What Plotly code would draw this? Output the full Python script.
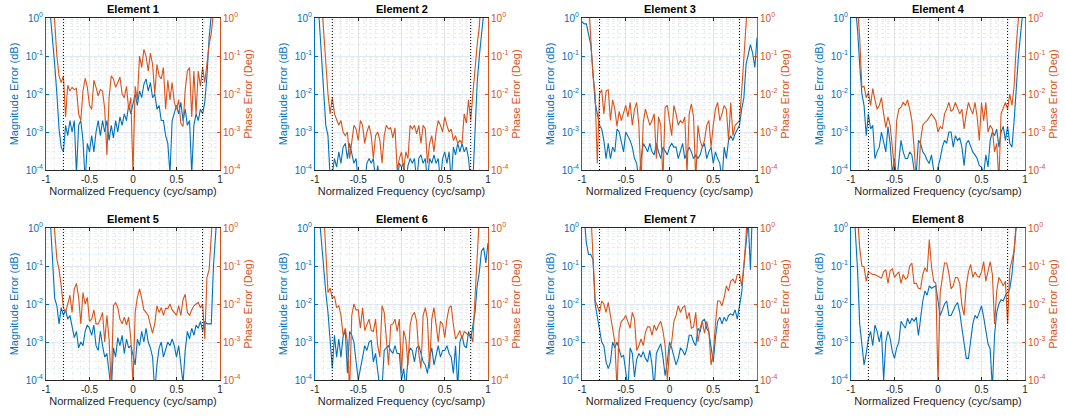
import plotly.graph_objects as go

# ---------------- data ----------------
FREQ = [round(-1 + 0.025 * i, 3) for i in range(81)]  # normalized frequency grid (cyc/samp)
TITLES = ["Element 1", "Element 2", "Element 3", "Element 4",
          "Element 5", "Element 6", "Element 7", "Element 8"]
X_TICKS = [-1, -0.5, 0, 0.5, 1]
X_TICK_LABELS = ["-1", "-0.5", "0", "0.5", "1"]
Y_TICKS = [1e-4, 1e-3, 1e-2, 1e-1, 1]
Y_TICK_LABELS = ["10<sup>-4</sup>", "10<sup>-3</sup>", "10<sup>-2</sup>", "10<sup>-1</sup>", "10<sup>0</sup>"]
PASSBAND_EDGES = [-0.8, 0.8]

MAG_E1 = [5, 3, 1.2, 0.3, 0.06, 0.01, 1.2e-3, 4e-4, 3e-4, 1.5e-3,
          8e-4, 2e-3, 1e-3, 2e-3, 8e-5, 1.5e-3, 2e-3, 6e-4, 5e-5, 5e-4,
          3e-4, 8e-4, 3e-4, 1e-3, 2e-3, 8e-4, 2e-3, 1e-3, 2e-3, 6e-4,
          1.5e-3, 7e-4, 2e-3, 1e-3, 2.5e-3, 1.5e-3, 3e-3, 2e-3, 5e-3, 3e-3,
          6e-3, 1e-2, 5e-3, 1.2e-2, 8e-3, 1.8e-2, 2.5e-2, 1.2e-2, 2e-2, 8e-3,
          1e-2, 4e-3, 5e-3, 2e-3, 2e-3, 8e-4, 5e-4, 8e-5, 2e-3, 3e-3,
          5e-3, 3e-3, 6e-3, 2e-3, 4e-3, 1.5e-3, 2e-3, 8e-5, 1.5e-3, 3e-3,
          2e-3, 4e-3, 3e-3, 6e-3, 3e-2, 0.3, 2, 5, 5, 5, 5]
PH_E1 = [5, 5, 5, 3, 0.8, 0.1, 3e-2, 2e-2, 3e-2, 2.5e-3,
         1.7e-2, 1.2e-2, 1.5e-2, 1.3e-2, 1.4e-2, 3e-3, 2e-3, 1.2e-2, 2.6e-2, 1.5e-2,
         5e-3, 4e-3, 2.3e-2, 1.5e-2, 9e-3, 1.3e-2, 1.2e-2, 4e-3, 2.5e-4, 8e-3,
         3e-2, 2.5e-2, 1.5e-2, 2e-2, 2.8e-2, 1e-2, 8e-3, 1.6e-2, 4e-3, 8e-3,
         8e-5, 1.6e-2, 7e-3, 0.1, 5e-2, 0.15, 0.1, 4e-2, 0.12, 6e-2,
         1e-2, 6e-2, 3e-2, 2.5e-2, 5e-2, 4e-3, 2.3e-2, 7e-3, 2e-2, 6e-3,
         4e-3, 7e-3, 1.7e-3, 1.4e-3, 1.3e-2, 4e-2, 5e-2, 2.5e-3, 4e-2, 3e-3,
         4e-2, 1.6e-2, 5e-2, 2e-2, 8e-2, 0.2, 0.4, 1.5, 5, 5, 5]

MAG_E2 = [5, 3, 0.8, 0.1, 1e-2, 1.5e-3, 8e-4, 6e-5, 8e-5, 2e-4,
          1.2e-4, 3e-4, 1.5e-4, 4e-4, 5e-4, 2e-4, 5e-4, 3e-4, 1.5e-4, 2e-4,
          5e-5, 5e-5, 5e-5, 5e-5, 1.5e-4, 2e-4, 1.5e-4, 2e-4, 5e-5, 1.3e-4,
          5e-5, 5e-5, 5e-5, 5e-5, 5e-5, 5e-5, 5e-5, 5e-5, 5e-5, 1.5e-4,
          1.2e-4, 1.5e-4, 5e-5, 1.3e-4, 2e-4, 1.5e-4, 2e-4, 5e-5, 2e-4, 2.5e-4,
          1.5e-4, 2e-4, 5e-5, 2e-4, 1.5e-4, 2.5e-4, 1.5e-4, 2e-4, 5e-5, 2e-4,
          3e-4, 1.5e-4, 3e-4, 5e-5, 4e-4, 2.5e-4, 5e-4, 3e-4, 5e-4, 3e-4,
          4e-4, 2e-4, 5e-5, 5e-5, 1e-3, 0.02, 0.1, 0.5, 2, 5, 5]
PH_E2 = [5, 5, 5, 3, 0.5, 0.05, 1e-2, 3e-3, 8e-3, 3e-3,
         2e-3, 1.5e-3, 2e-3, 1e-3, 8e-4, 1e-3, 2e-4, 6e-4, 1.5e-3, 1.2e-3,
         6e-4, 2e-3, 1.5e-3, 5e-4, 1e-3, 1.5e-3, 8e-4, 2e-4, 8e-4, 1e-3,
         6e-4, 1.5e-4, 8e-4, 1.5e-3, 1.2e-3, 1.3e-3, 7e-4, 1.3e-3, 1e-4, 2e-4,
         3e-4, 1e-4, 3e-4, 2e-4, 1.5e-3, 1.2e-3, 1.5e-3, 9e-4, 1.5e-3, 5e-4,
         1.5e-3, 1.2e-3, 1.5e-4, 5e-4, 8e-4, 3e-4, 1e-3, 2e-3, 1.5e-3, 1e-3,
         2.5e-3, 1.5e-3, 1e-3, 1.2e-3, 6e-4, 8e-4, 5e-4, 6e-4, 5e-4, 3e-3,
         1.7e-3, 7e-3, 2e-3, 1e-2, 5e-2, 0.2, 0.6, 5, 5, 5, 5]

MAG_E3 = [0.8, 0.7, 0.7, 0.4, 0.2, 0.04, 6e-3, 3e-3, 1.5e-3, 1.2e-3,
          6e-4, 2e-4, 5e-4, 2e-4, 4e-4, 3e-4, 1.2e-3, 1e-3, 5e-4, 3e-4,
          1e-3, 8e-4, 6e-4, 4e-4, 2e-4, 1.5e-4, 5e-5, 2e-4, 5e-4, 4e-4,
          3e-4, 5e-4, 3e-4, 2.5e-4, 5e-4, 3e-4, 2e-4, 4e-4, 3e-4, 2.5e-4,
          4e-4, 5e-4, 4e-4, 4e-4, 2e-4, 3e-4, 5e-4, 2e-4, 3e-4, 4e-4,
          3e-4, 2e-4, 2.5e-4, 2e-4, 2.5e-4, 4e-4, 5e-4, 2e-4, 3e-4, 4e-4,
          1.5e-4, 3e-4, 2e-4, 1.5e-4, 5e-5, 4e-4, 2e-4, 6e-4, 8e-4, 6e-4,
          9e-4, 1.2e-3, 1.5e-3, 4e-3, 8e-3, 0.06, 0.12, 0.2, 0.12, 0.05, 0.3]
PH_E3 = [5, 5, 5, 3, 0.4, 0.03, 1e-2, 1.5e-4, 1e-2, 1.3e-2,
         3e-3, 1.2e-2, 1.3e-2, 2e-3, 7e-3, 4e-3, 1.4e-3, 3.5e-3, 2e-3, 3e-3,
         5e-3, 2.5e-3, 6e-3, 1.5e-3, 4e-3, 6e-3, 1.5e-3, 5e-5, 1.8e-3, 4e-3,
         2.5e-3, 1.5e-3, 2e-3, 3e-3, 2e-4, 2.5e-3, 1.5e-3, 5e-5, 4.5e-3, 5e-3,
         2e-3, 8e-4, 5e-3, 3e-3, 1.5e-3, 2e-3, 1.7e-3, 2.5e-3, 8e-5, 3e-3,
         5.5e-3, 2.5e-3, 5e-5, 1.5e-3, 6e-4, 4e-4, 6e-4, 1.5e-3, 2e-3, 4e-4,
         1.5e-3, 4e-3, 6e-3, 2e-3, 3e-3, 5e-3, 4e-3, 6e-4, 6e-3, 8e-4,
         1.5e-3, 1.7e-3, 2e-3, 1.2e-2, 0.1, 0.6, 5, 5, 5, 5, 5]

MAG_E4 = [5, 5, 2, 0.5, 0.06, 1e-2, 5e-3, 8e-4, 3e-3, 1.2e-3,
          1.5e-3, 2e-4, 3e-4, 4e-4, 1e-3, 5e-4, 3e-4, 1.4e-3, 5e-4, 8e-5,
          2e-4, 5e-5, 2e-4, 6e-4, 3e-4, 2e-4, 2e-4, 3e-4, 2.5e-4, 1e-4,
          8e-5, 6e-4, 5e-4, 3e-4, 2.5e-4, 1.8e-4, 1.5e-4, 2.5e-4, 1e-4, 5e-5,
          1.2e-4, 2e-4, 4e-4, 6e-4, 5e-4, 1e-3, 1e-3, 4e-4, 8e-4, 6e-4,
          7e-4, 4e-4, 1.3e-4, 5e-4, 6e-4, 4e-4, 3e-4, 2.5e-4, 2e-4, 1.3e-4,
          1.2e-4, 8e-5, 2.5e-4, 1.2e-4, 6e-4, 1e-3, 8e-4, 1.2e-3, 4e-4, 1e-3,
          1.4e-3, 6e-4, 1.4e-3, 5e-4, 4e-4, 2e-3, 2e-2, 0.1, 0.4, 2, 5]
PH_E4 = [5, 5, 5, 2, 0.3, 1.5e-2, 1.6e-2, 8e-3, 1.1e-2, 5e-3,
         1.4e-2, 7e-3, 4e-3, 5e-3, 8e-3, 3e-3, 1.3e-3, 2.5e-3, 1.5e-3, 4e-4,
         1e-4, 2e-3, 4e-3, 4.5e-3, 6e-3, 5e-3, 7e-3, 4e-3, 2e-3, 4e-4,
         5e-5, 5e-5, 6e-4, 1.5e-3, 1.8e-3, 2e-3, 2.5e-3, 3e-3, 2.5e-3, 2e-3,
         1e-3, 1.4e-3, 1.2e-3, 3e-3, 4e-3, 6e-3, 3.5e-3, 4e-3, 6e-3, 4e-3,
         3e-3, 4e-3, 1.2e-3, 3e-3, 6e-3, 4e-3, 3e-3, 6e-3, 2.5e-3, 6e-4,
         6e-3, 2e-3, 6e-3, 1e-3, 1.5e-3, 1.2e-3, 3e-4, 5e-4, 5e-5, 3e-3,
         4.5e-3, 6e-3, 4e-3, 1e-2, 5e-3, 1.6e-2, 0.2, 0.8, 5, 5, 5]

MAG_E5 = [5, 5, 1.5, 0.1, 1.4e-2, 9e-3, 3e-3, 8e-3, 5e-3, 7e-3,
          4e-3, 5e-3, 2.3e-3, 1.3e-3, 1.9e-3, 7e-4, 1e-3, 8e-4, 1.9e-3, 2.8e-3,
          2.3e-3, 1.5e-3, 2.8e-3, 8e-4, 6e-4, 1.9e-3, 8e-4, 4e-4, 5e-4, 1.5e-4,
          5e-5, 7e-4, 4e-4, 1.3e-3, 8e-4, 1.5e-3, 5e-4, 1.2e-3, 7e-4, 8e-4,
          4e-4, 2.5e-4, 1.2e-3, 8e-4, 1.9e-3, 1e-3, 2.3e-3, 1e-3, 7e-4, 4e-4,
          5e-5, 2.5e-4, 7e-4, 1e-3, 4e-4, 6e-4, 1e-3, 8e-4, 1.2e-3, 8e-4,
          4e-4, 8e-4, 2.5e-4, 8e-5, 6e-4, 1.9e-3, 1.2e-3, 2.3e-3, 1.5e-3, 2.8e-3,
          2.3e-3, 3.5e-3, 2e-3, 3.5e-3, 3e-3, 3e-3, 3e-3, 0.1, 1.5, 5, 5]
PH_E5 = [5, 5, 5, 5, 0.8, 0.15, 0.08, 3e-2, 8e-3, 6e-3,
         1e-2, 1.7e-2, 6e-3, 2.5e-2, 3.5e-2, 1.5e-2, 3e-3, 2e-2, 1e-2, 1.5e-2,
         3.5e-3, 4e-3, 7e-3, 3e-3, 3e-3, 4e-3, 6e-3, 1e-3, 5e-3, 1.2e-3,
         7e-5, 9e-3, 1.1e-2, 8e-3, 4e-3, 3e-3, 4.5e-3, 2.8e-3, 4.5e-3, 1.2e-3,
         7e-5, 6e-3, 1.5e-2, 2.5e-2, 1.4e-2, 7e-3, 6e-3, 5e-3, 2.8e-3, 1.7e-3,
         3e-3, 9e-3, 6e-3, 8e-3, 5e-3, 7.8e-3, 7.5e-3, 1e-2, 7e-3, 6e-3,
         5e-3, 9e-3, 5e-3, 1.3e-2, 1.8e-2, 6e-3, 5e-3, 7e-3, 9e-3, 1e-2,
         1.1e-2, 8e-3, 1e-2, 1.2e-3, 0.05, 0.08, 0.5, 5, 5, 5, 5]

MAG_E6 = [5, 5, 2, 0.4, 0.08, 0.02, 6e-3, 8e-4, 2e-4, 1.5e-3,
          4e-4, 1.2e-3, 4e-4, 1.4e-3, 2e-3, 1.5e-4, 1.9e-3, 1.5e-3, 1e-3, 3e-4,
          1e-4, 2e-4, 4e-4, 8e-4, 6e-4, 1e-3, 1.1e-3, 3e-4, 5e-4, 2e-4,
          6e-5, 6e-5, 6e-4, 7e-4, 8e-4, 6e-4, 5e-4, 8e-4, 5e-4, 5e-4,
          1e-4, 2e-4, 6e-5, 4e-4, 7e-4, 6e-4, 3e-4, 7e-4, 8e-4, 5e-4,
          3e-4, 2.5e-4, 1.5e-4, 4e-4, 7e-4, 2.5e-4, 5e-4, 8e-4, 4e-4, 6e-4,
          6e-4, 8e-4, 5e-4, 4e-4, 1.5e-4, 8e-4, 6e-5, 1e-3, 1.5e-3, 8e-4,
          7e-4, 1.9e-3, 1.2e-3, 3e-3, 6e-3, 3e-2, 0.07, 0.25, 0.3, 0.12, 0.4]
PH_E6 = [5, 5, 5, 5, 3, 0.3, 0.02, 0.026, 0.014, 0.016,
         8e-3, 9e-3, 5e-3, 1.5e-3, 2.3e-3, 1e-3, 5e-5, 5e-3, 1e-2, 7e-3,
         7e-3, 2.3e-3, 8e-3, 2e-3, 2.8e-3, 4e-3, 2e-3, 1.9e-3, 4e-3, 8e-4,
         4e-4, 9e-3, 6e-3, 1e-3, 2.5e-4, 2.8e-3, 3e-3, 4e-3, 1.9e-3, 4e-3,
         1.5e-4, 2e-3, 1.2e-3, 2.5e-4, 2.8e-3, 5e-3, 6e-3, 3.5e-3, 5e-4, 2e-4,
         5e-3, 8e-3, 4e-3, 2e-4, 4e-3, 8e-3, 3e-3, 1e-3, 3.5e-3, 3e-3,
         1.3e-3, 4e-3, 8e-3, 9e-3, 2.8e-3, 1.2e-3, 1.5e-3, 2e-3, 1.2e-3, 1.9e-3,
         1.7e-3, 1.5e-3, 1.6e-3, 1e-3, 1.5e-2, 0.3, 2, 5, 5, 5, 5]

MAG_E7 = [5, 2, 0.4, 0.2, 0.2, 0.15, 0.01, 5e-3, 2e-3, 1e-3,
          8e-4, 3e-4, 2e-4, 3e-4, 1e-3, 7e-4, 1e-3, 6e-4, 4e-4, 4.5e-4,
          1.5e-4, 6e-5, 7e-4, 5e-4, 1.2e-4, 3.5e-4, 5e-4, 4e-4, 5.6e-4, 3.7e-4,
          3e-4, 6e-4, 2.5e-4, 6e-5, 5e-4, 7e-4, 9e-4, 4e-4, 1.3e-4, 3e-4,
          1e-3, 7e-4, 4.5e-4, 2.5e-4, 3.7e-4, 7e-4, 6e-4, 4.5e-4, 7e-4, 1.5e-3,
          1.5e-3, 1e-3, 8e-4, 2.3e-3, 1.8e-3, 3.5e-3, 4e-3, 2.3e-3, 1.8e-3, 7e-4,
          3e-4, 1.3e-3, 3.5e-3, 4.5e-3, 3e-3, 4.5e-3, 3.5e-3, 5e-3, 5.5e-3, 5e-3,
          7e-3, 4e-3, 1e-2, 2e-2, 0.1, 0.3, 1.5, 0.08, 5, 5, 5]
PH_E7 = [5, 5, 5, 5, 3, 0.2, 1.2e-2, 9e-3, 6e-3, 1.2e-2,
         1e-2, 6e-3, 1.1e-2, 5e-3, 2.5e-3, 1e-3, 6e-5, 2e-3, 3.5e-3, 4e-3,
         5e-3, 3.5e-3, 2.3e-3, 6e-3, 4e-3, 6e-4, 8e-4, 1.2e-3, 8e-4, 1.8e-3,
         2.5e-3, 2.5e-3, 1.5e-3, 2.8e-3, 2e-3, 2.8e-3, 3.5e-3, 2e-3, 8e-4, 1e-4,
         6e-4, 1e-3, 3.5e-3, 5e-3, 9e-3, 6e-3, 8e-3, 9e-3, 4e-3, 6e-3,
         2.3e-3, 2.5e-3, 6e-3, 1e-3, 2.3e-3, 3.5e-3, 1.7e-3, 3.5e-3, 1.9e-3, 2.5e-4,
         5e-4, 3e-3, 1.2e-2, 1.2e-2, 9e-3, 1.5e-2, 3e-2, 2.2e-2, 4e-2, 4.5e-2,
         3.5e-2, 6e-2, 6e-2, 3e-2, 0.1, 0.6, 5, 5, 5, 5, 5]

MAG_E8 = [5, 5, 0.8, 0.08, 3e-3, 8e-4, 2.5e-4, 5e-4, 1.2e-3, 1.9e-3,
          8e-4, 2.8e-3, 1.9e-3, 1e-3, 1.9e-3, 1e-4, 1e-3, 1.9e-3, 1.25e-3, 5.6e-4,
          3.7e-4, 7e-4, 1e-3, 3.5e-3, 2.8e-3, 2.3e-3, 4.2e-3, 3e-3, 4.2e-3, 3.5e-3,
          4.5e-3, 1.5e-3, 4.2e-3, 1.2e-2, 2.2e-2, 1.7e-2, 3e-2, 2.6e-2, 2.8e-2, 3e-2,
          1.2e-2, 5e-3, 7e-3, 1e-2, 1.2e-2, 5e-3, 5e-3, 7e-3, 9e-3, 1.1e-2,
          6e-3, 2.3e-3, 1e-3, 3.7e-4, 3.7e-4, 1e-3, 3e-3, 5e-3, 4.2e-3, 6e-3,
          9e-3, 4.5e-3, 2e-3, 9e-4, 6.5e-4, 6e-5, 1.5e-3, 6e-3, 1e-2, 1.3e-2,
          1.2e-2, 1.7e-2, 2e-2, 2.5e-2, 0.06, 0.2, 0.6, 5, 5, 5, 5]
PH_E8 = [5, 5, 5, 2, 0.3, 0.1, 0.095, 0.04, 0.07, 0.065,
         0.06, 0.06, 0.055, 0.05, 0.048, 0.07, 0.08, 0.035, 0.075, 0.085,
         0.05, 0.06, 0.07, 0.035, 0.06, 0.045, 0.05, 0.1, 0.12, 0.035,
         0.035, 0.026, 0.025, 0.06, 0.09, 0.07, 0.5, 0.1, 0.04, 0.035,
         8e-5, 0.02, 0.045, 0.12, 0.12, 0.065, 0.025, 0.03, 0.05, 0.05,
         0.035, 9e-3, 5e-3, 0.03, 0.07, 0.11, 0.05, 0.07, 0.055, 0.05,
         0.07, 0.13, 0.04, 0.07, 0.13, 0.06, 3e-3, 0.022, 0.05, 0.04,
         0.03, 0.04, 3e-3, 0.08, 0.15, 0.25, 1.5, 5, 5, 5, 5]

MAGS = [MAG_E1, MAG_E2, MAG_E3, MAG_E4, MAG_E5, MAG_E6, MAG_E7, MAG_E8]
PHASES = [PH_E1, PH_E2, PH_E3, PH_E4, PH_E5, PH_E6, PH_E7, PH_E8]

# ---------------- style / layout ----------------
W, H = 1065, 417
BLUE = "#0072BD"
ORANGE = "#D95319"
AX = "#262626"
FONT = "Liberation Sans, Arial, Helvetica, sans-serif"
LEFTS = [46, 315, 582, 851]
RIGHTS = [220, 488, 757, 1025]
ROWS = [(18, 170), (228, 380)]
MINOR_Y = [m * 10.0 ** e for e in range(-4, 0) for m in range(2, 10)]
MINOR_X = [round(-1 + 0.1 * i, 1) for i in range(21) if i % 5 != 0]

fig = go.Figure()
layout = {}
shapes = []
annotations = []

for k in range(8):
    r, c = divmod(k, 4)
    xs = "" if k == 0 else str(k + 1)
    yl = "" if k == 0 else str(2 * k + 1)
    yr = str(2 * k + 2)
    x0, x1 = LEFTS[c] / W, RIGHTS[c] / W
    ytop, ybot = ROWS[r]
    yd = [1 - ybot / H, 1 - ytop / H]

    fig.add_trace(go.Scatter(x=FREQ, y=MAGS[k], mode="lines",
                             line=dict(color=BLUE, width=1.1),
                             xaxis="x" + xs, yaxis="y" + yl,
                             showlegend=False, hoverinfo="skip"))
    fig.add_trace(go.Scatter(x=FREQ, y=PHASES[k], mode="lines",
                             line=dict(color=ORANGE, width=1.1),
                             xaxis="x" + xs, yaxis="y" + yr,
                             showlegend=False, hoverinfo="skip"))

    layout["xaxis" + xs] = dict(
        domain=[x0, x1], anchor="y" + yl, range=[-1, 1], automargin=False,
        tickmode="array", tickvals=X_TICKS, ticktext=X_TICK_LABELS,
        showgrid=True, gridcolor="#e3e3e3", gridwidth=1,
        minor=dict(tickmode="array", tickvals=MINOR_X, showgrid=True,
                   gridcolor="#ececec", griddash="dot", gridwidth=1, ticks=""),
        showline=True, mirror="ticks", linecolor=AX, linewidth=1,
        ticks="inside", ticklen=3, tickcolor=AX,
        tickfont=dict(size=10, color=AX, family=FONT),
        title=dict(text="Normalized Frequency (cyc/samp)",
                   font=dict(size=11, color=AX, family=FONT), standoff=3),
        zeroline=False, fixedrange=True)

    layout["yaxis" + yl] = dict(
        domain=yd, anchor="x" + xs, type="log", range=[-4, 0], automargin=False,
        tickmode="array", tickvals=Y_TICKS, ticktext=Y_TICK_LABELS,
        showgrid=True, gridcolor="#dfeaf4", gridwidth=1,
        minor=dict(tickmode="array", tickvals=MINOR_Y, showgrid=True,
                   gridcolor="#e6eff7", griddash="dot", gridwidth=1, ticks=""),
        showline=True, linecolor=BLUE, linewidth=1,
        ticks="inside", ticklen=3, tickcolor=BLUE,
        tickfont=dict(size=10, color=BLUE, family=FONT),
        title=dict(text="Magnitude Error (dB)",
                   font=dict(size=11, color=BLUE, family=FONT), standoff=4),
        zeroline=False, fixedrange=True)

    layout["yaxis" + yr] = dict(
        anchor="x" + xs, overlaying="y" + yl, side="right", automargin=False,
        type="log", range=[-4, 0],
        tickmode="array", tickvals=Y_TICKS, ticktext=Y_TICK_LABELS,
        showgrid=False, showline=True, linecolor=ORANGE, linewidth=1,
        ticks="inside", ticklen=3, tickcolor=ORANGE,
        tickfont=dict(size=10, color=ORANGE, family=FONT),
        title=dict(text="Phase Error (Deg)",
                   font=dict(size=11, color=ORANGE, family=FONT), standoff=4),
        zeroline=False, fixedrange=True)

    for e in PASSBAND_EDGES:
        shapes.append(dict(type="line", xref="x" + xs, yref="y" + yl + " domain",
                           x0=e, x1=e, y0=0, y1=1,
                           line=dict(color="black", width=1, dash="1px,2px")))

    annotations.append(dict(text="<b>" + TITLES[k] + "</b>", xref="paper", yref="paper",
                            x=(x0 + x1) / 2, y=yd[1], xanchor="center", yanchor="bottom",
                            yshift=1, showarrow=False,
                            font=dict(size=11, color="black", family=FONT)))

fig.update_layout(**layout)
fig.update_layout(width=W, height=H, margin=dict(l=0, r=0, t=0, b=0, autoexpand=False),
                  paper_bgcolor="white", plot_bgcolor="white",
                  font=dict(family=FONT, color=AX),
                  shapes=shapes, annotations=annotations, showlegend=False)

# remove the browser's default 8px body margin so the figure sits at the page origin
fig.write_html("out.html",
               config={"displayModeBar": False, "staticPlot": True},
               post_script="document.body.style.margin='0';document.body.style.overflow='hidden';")
